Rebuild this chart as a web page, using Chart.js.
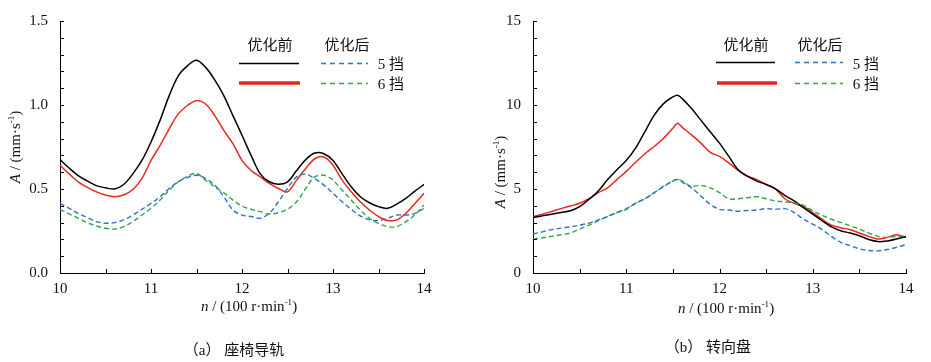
<!DOCTYPE html>
<html><head><meta charset="utf-8">
<script src="https://cdn.jsdelivr.net/npm/chart.js@4.4.1/dist/chart.umd.min.js"></script>
<style>
body{margin:0;background:#fff;width:931px;height:362px;overflow:hidden;position:relative;font-family:"Liberation Serif","Noto Sans CJK SC",serif;color:#111}
.t{position:absolute;white-space:nowrap;transform:translate(-50%,-50%);font-size:15px;line-height:1}
.box{position:absolute}
sup{font-size:9px;vertical-align:top;position:relative;top:-1px}
svg{position:absolute;left:0;top:0}
</style></head><body>
<div class="box" style="left:0;top:0;width:440px;height:300px"><canvas id="ca"></canvas></div>
<div class="box" style="left:465px;top:0;width:460px;height:300px"><canvas id="cb"></canvas></div>

<svg width="931" height="362">
  <line x1="239" y1="63.5" x2="299" y2="63.5" stroke="#000" stroke-width="1.5"/>
  <line x1="239" y1="83" x2="300" y2="83" stroke="#e8281e" stroke-width="3.5"/>
  <line x1="321" y1="63.5" x2="368" y2="63.5" stroke="#2f74c0" stroke-width="1.5" stroke-dasharray="5,4"/>
  <line x1="321" y1="83.5" x2="368" y2="83.5" stroke="#33a64a" stroke-width="1.5" stroke-dasharray="5,4"/>
  <line x1="716" y1="62.5" x2="775" y2="62.5" stroke="#000" stroke-width="1.5"/>
  <line x1="717" y1="83" x2="777" y2="83" stroke="#e8281e" stroke-width="3.5"/>
  <line x1="795" y1="62.5" x2="843" y2="62.5" stroke="#2f74c0" stroke-width="1.5" stroke-dasharray="5,4"/>
  <line x1="795" y1="83.5" x2="843" y2="83.5" stroke="#33a64a" stroke-width="1.5" stroke-dasharray="5,4"/>
</svg>

<div class="t" style="left:270px;top:45px">优化前</div>
<div class="t" style="left:347px;top:45px">优化后</div>
<div class="t" style="left:391px;top:64px">5 挡</div>
<div class="t" style="left:391px;top:84px">6 挡</div>
<div class="t" style="left:746px;top:45px">优化前</div>
<div class="t" style="left:820px;top:45px">优化后</div>
<div class="t" style="left:866px;top:64px">5 挡</div>
<div class="t" style="left:866px;top:84px">6 挡</div>

<div class="t" style="left:15px;top:147px;transform:translate(-50%,-50%) rotate(-90deg)"><i>A</i> / (mm·s<sup>-1</sup>)</div>
<div class="t" style="left:500px;top:172px;transform:translate(-50%,-50%) rotate(-90deg)"><i>A</i> / (mm·s<sup>-1</sup>)</div>
<div class="t" style="left:249px;top:306px"><i>n</i> / (100 r·min<sup>-1</sup>)</div>
<div class="t" style="left:726px;top:308px"><i>n</i> / (100 r·min<sup>-1</sup>)</div>
<div class="t" style="left:234px;top:350px">（a） 座椅导轨</div>
<div class="t" style="left:708px;top:347px">（b） 转向盘</div>

<script>
// ---- data: (a) seat rail ----
const speedA = [10,10.1,10.2,10.3,10.4,10.5,10.6,10.7,10.8,10.9,11,11.1,11.2,11.3,11.4,11.5,11.6,11.7,11.8,11.9,12,12.1,12.2,12.3,12.4,12.5,12.6,12.7,12.8,12.9,13,13.1,13.2,13.3,13.4,13.5,13.6,13.7,13.8,13.9,14];
const beforeA = [0.675,0.625,0.58,0.548,0.52,0.507,0.50,0.527,0.59,0.67,0.78,0.91,1.056,1.174,1.233,1.267,1.224,1.15,1.056,0.937,0.82,0.70,0.59,0.543,0.529,0.543,0.61,0.675,0.714,0.71,0.67,0.59,0.513,0.454,0.418,0.395,0.385,0.41,0.444,0.487,0.527];
const redA    = [0.641,0.59,0.543,0.51,0.483,0.464,0.454,0.464,0.497,0.562,0.67,0.76,0.858,0.947,0.997,1.026,1.006,0.937,0.849,0.77,0.67,0.61,0.572,0.533,0.503,0.483,0.553,0.622,0.68,0.69,0.641,0.553,0.483,0.424,0.375,0.336,0.312,0.316,0.355,0.414,0.474];
const gear5A  = [0.414,0.385,0.355,0.33,0.306,0.296,0.30,0.316,0.345,0.379,0.414,0.454,0.503,0.543,0.568,0.582,0.562,0.523,0.454,0.375,0.345,0.336,0.326,0.355,0.424,0.503,0.572,0.588,0.562,0.523,0.474,0.424,0.379,0.34,0.316,0.312,0.326,0.345,0.345,0.355,0.385];
const gear6A  = [0.379,0.352,0.326,0.30,0.28,0.266,0.262,0.276,0.306,0.345,0.385,0.434,0.493,0.543,0.576,0.592,0.553,0.513,0.478,0.434,0.399,0.379,0.365,0.351,0.359,0.379,0.424,0.503,0.572,0.582,0.553,0.493,0.434,0.375,0.326,0.296,0.276,0.276,0.306,0.345,0.405];
// ---- data: (b) steering wheel ----
const speedB = [10,10.1,10.2,10.3,10.4,10.5,10.6,10.7,10.8,10.9,11,11.1,11.2,11.3,11.4,11.5,11.55,11.6,11.7,11.8,11.9,12,12.1,12.2,12.3,12.4,12.5,12.6,12.7,12.8,12.9,13,13.1,13.2,13.3,13.4,13.5,13.6,13.7,13.8,13.9,14];
const beforeB = [3.30,3.40,3.50,3.60,3.70,3.95,4.38,4.88,5.56,6.15,6.70,7.43,8.41,9.40,10.08,10.48,10.58,10.38,9.79,9.10,8.41,7.73,6.94,6.15,5.76,5.47,5.27,5.01,4.62,4.29,3.89,3.50,3.11,2.75,2.52,2.38,2.22,1.99,1.87,1.91,2.02,2.18];
const redB    = [3.34,3.50,3.66,3.83,3.99,4.15,4.42,4.78,5.07,5.56,6.05,6.59,7.10,7.53,8.02,8.61,8.91,8.67,8.22,7.73,7.18,6.94,6.55,6.11,5.76,5.56,5.27,5.01,4.42,4.15,3.95,3.60,3.20,2.85,2.69,2.58,2.38,2.18,2.02,2.12,2.28,2.12];
const gear5B  = [2.32,2.45,2.58,2.67,2.75,2.85,2.97,3.16,3.36,3.60,3.83,4.15,4.42,4.78,5.17,5.47,5.56,5.41,5.07,4.58,4.09,3.79,3.75,3.68,3.72,3.75,3.83,3.79,3.83,3.60,3.20,2.91,2.58,2.18,1.83,1.63,1.44,1.34,1.32,1.40,1.53,1.69];
const gear6B  = [2.02,2.10,2.18,2.28,2.38,2.61,2.85,3.11,3.36,3.60,3.79,4.15,4.42,4.78,5.13,5.47,5.60,5.47,5.17,5.21,5.07,4.78,4.42,4.42,4.48,4.54,4.42,4.29,4.23,4.15,4.03,3.70,3.44,3.20,3.01,2.81,2.61,2.38,2.18,2.12,2.18,2.18];

const seriesLabels = ['优化前','优化后 5挡','优化后 6挡'];

const pts = (xs, ys) => xs.map((x, i) => ({x, y: ys[i]}));

const inwardTicks = {
  id: 'inwardTicks',
  afterDatasetsDraw(chart) {
    const ctx = chart.ctx, xs = chart.scales.x, ys = chart.scales.y;
    ctx.save();
    ctx.strokeStyle = '#000'; ctx.lineWidth = 1;
    ctx.beginPath();
    ys.ticks.forEach(t => { const p = Math.round(ys.getPixelForValue(t.value)) + 0.5; ctx.moveTo(ys.right, p); ctx.lineTo(ys.right + 4, p); });
    xs.ticks.forEach(t => { const p = Math.round(xs.getPixelForValue(t.value)) + 0.5; ctx.moveTo(p, xs.top); ctx.lineTo(p, xs.top - 4); });
    ctx.stroke();
    ctx.restore();
  }
};

function makeChart(id, xs, b, r, g5, g6, yMax, yStep, yLabelEvery, yDigits, yWidth, padRight) {
  const ds = (label, data, color, width, dash) => ({
    label, data: pts(xs, data), borderColor: color, borderWidth: width, borderDash: dash,
    pointRadius: 0, tension: 0.35, fill: false
  });
  new Chart(document.getElementById(id), {
    type: 'line',
    data: { datasets: [
      ds(seriesLabels[1], g5, '#2f74c0', 1.4, [5, 3]),
      ds(seriesLabels[2], g6, '#33a64a', 1.4, [5, 3]),
      ds(seriesLabels[0], b, '#000000', 1.5, []),
      ds(seriesLabels[0] + ' (红)', r, '#e8281e', 1.5, [])
    ]},
    options: {
      responsive: true, maintainAspectRatio: false, animation: false,
      layout: { padding: { top: 20, right: padRight, left: 0, bottom: 0 } },
      plugins: { legend: { display: false }, tooltip: { enabled: false } },
      scales: {
        x: {
          type: 'linear', min: 10, max: 14,
          grid: { display: false, drawTicks: false },
          border: { display: true, color: '#000', width: 1 },
          ticks: { stepSize: 0.5, autoSkip: false, maxRotation: 0, padding: 7, color: '#111',
            font: { family: 'Liberation Serif', size: 15 },
            callback: v => Math.abs(v - Math.round(v)) < 1e-6 ? String(Math.round(v)) : '' },
          afterFit: s => { s.height = 27; }
        },
        y: {
          min: 0, max: yMax,
          grid: { display: false, drawTicks: false },
          border: { display: true, color: '#000', width: 1 },
          ticks: { stepSize: yStep, autoSkip: false, padding: 12, color: '#111',
            font: { family: 'Liberation Serif', size: 15 },
            callback: v => { const q = v / yLabelEvery; return Math.abs(q - Math.round(q)) < 1e-6 ? v.toFixed(yDigits) : ''; } },
          afterFit: s => { s.width = yWidth; }
        }
      }
    },
    plugins: [inwardTicks]
  });
}

makeChart('ca', speedA, beforeA, redA, gear5A, gear6A, 1.5, 0.1, 0.5, 1, 60, 16);
makeChart('cb', speedB, beforeB, redB, gear5B, gear6B, 15, 1, 5, 0, 68, 19);
</script>
</body></html>
